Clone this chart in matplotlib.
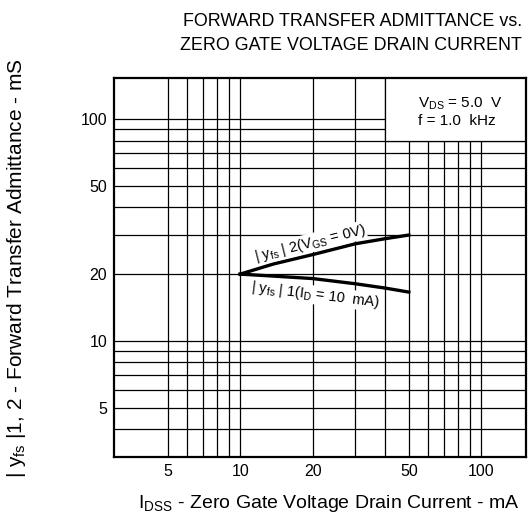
import matplotlib
matplotlib.use("Agg")
import matplotlib.pyplot as plt
from matplotlib.patches import Rectangle

plt.rcParams['font.family'] = ['Liberation Sans', 'DejaVu Sans']
plt.rcParams['mathtext.fontset'] = 'custom'
plt.rcParams['mathtext.rm'] = 'Liberation Sans'
plt.rcParams['mathtext.it'] = 'Liberation Sans'

# Data
idss = [10, 13.7, 20, 30, 40, 50]
yfs2 = [20, 22.2, 24.5, 27.4, 28.9, 30]
yfs1 = [20, 19.6, 19.1, 18.1, 17.3, 16.6]

x_major = [5, 10, 20, 50, 100]
x_major_labels = ["5", "10", "20", "50", "100"]
x_minor = [6, 7, 8, 9, 30, 40, 60, 70, 80, 90]
y_major = [5, 10, 20, 50, 100]
y_major_labels = ["5", "10", "20", "50", "100"]
y_minor = [4, 6, 7, 8, 9, 30, 40, 60, 70, 80, 90]

fig = plt.figure(figsize=(5.28, 5.16), dpi=100)
ax = fig.add_axes([114/528, 1-457/516, 412/528, 379/516])
ax.set_xscale('log')
ax.set_yscale('log')
ax.set_xlim(3, 153)
ax.set_ylim(3, 153)

ax.set_xticks(x_major)
ax.set_xticklabels(x_major_labels)
ax.set_xticks(x_minor, minor=True)
ax.set_xticklabels([], minor=True)
ax.set_yticks(y_major)
ax.set_yticklabels(y_major_labels)
ax.set_yticks(y_minor, minor=True)
ax.set_yticklabels([], minor=True)
ax.tick_params(which='both', length=0, labelsize=11.5, pad=5)
ax.grid(True, which='both', color='black', linewidth=0.9)
ax.set_axisbelow(True)
for s in ax.spines.values():
    s.set_linewidth(1.6)

# Conditions box (white area covering grid)
ax.add_patch(Rectangle((40, 80), 200, 200, facecolor='white', edgecolor='black',
                       linewidth=0.9, zorder=1.5))
ax.text(0.738, 0.932, r"V$_{\mathregular{DS}}$ = 5.0  V", transform=ax.transAxes,
        fontsize=11, ha='left', va='center', zorder=3)
ax.text(0.738, 0.886, "f = 1.0  kHz", transform=ax.transAxes,
        fontsize=11, ha='left', va='center', zorder=3)

ax.plot(idss, yfs2, color='black', linewidth=2.4, zorder=4)
ax.plot(idss, yfs1, color='black', linewidth=2.4, zorder=4)

ax.text(19.5, 27.6, r"| y$_{\mathregular{fs}}$ | 2(V$_{\mathregular{GS}}$ = 0V)", fontsize=10.5,
        rotation=14, ha='center', va='center', zorder=5,
        bbox=dict(facecolor='white', edgecolor='none', pad=0.3))
ax.text(20.5, 16.1, r"| y$_{\mathregular{fs}}$ | 1(I$_{\mathregular{D}}$ = 10  mA)", fontsize=10.5,
        rotation=-7, ha='center', va='center', zorder=5,
        bbox=dict(facecolor='white', edgecolor='none', pad=0.3))

fig.text(353/528, 1-21/516, "FORWARD TRANSFER ADMITTANCE vs.", fontsize=12.9,
         ha='center', va='center')
fig.text(351/528, 1-45/516, "ZERO GATE VOLTAGE DRAIN CURRENT", fontsize=12.9,
         ha='center', va='center')
fig.text(329/528, 1-503/516, r"I$_{\mathregular{DSS}}$ - Zero Gate Voltage Drain Current - mA",
         fontsize=14, ha='center', va='center')
fig.text(17/528, 1-268/516, r"| y$_{\mathregular{fs}}$ |1, 2 - Forward Transfer Admittance - mS",
         fontsize=15, ha='center', va='center', rotation=90)

fig.savefig("out.png", dpi=100)
